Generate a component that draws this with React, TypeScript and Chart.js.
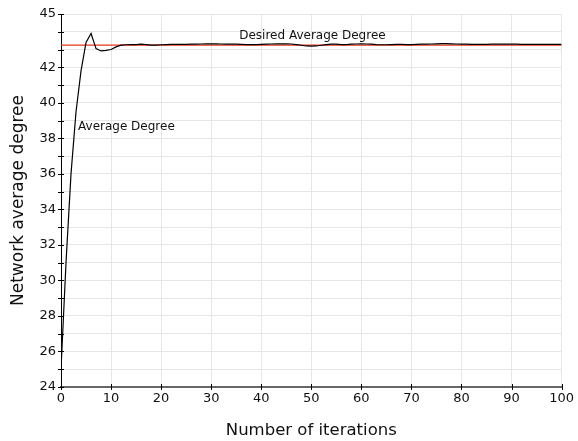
import React, { useEffect, useRef } from "react";
import { Chart, registerables } from "chart.js";

Chart.register(...registerables);

const iterations: number[] = Array.from({ length: 101 }, (_, i) => i);
const averageDegree: number[] = [
  25.0, 31.0, 36.0, 39.5, 41.8, 43.4, 43.9, 43.05, 42.92, 42.95,
  43.0, 43.15, 43.25, 43.27, 43.28, 43.28, 43.3, 43.28, 43.25, 43.25,
  43.27, 43.28, 43.29, 43.29, 43.29, 43.29, 43.3, 43.3, 43.31, 43.32,
  43.32, 43.32, 43.31, 43.3, 43.3, 43.3, 43.29, 43.28, 43.28, 43.28,
  43.29, 43.3, 43.31, 43.32, 43.32, 43.32, 43.31, 43.28, 43.24, 43.2,
  43.19, 43.2, 43.24, 43.28, 43.3, 43.3, 43.28, 43.28, 43.3, 43.31,
  43.32, 43.31, 43.3, 43.28, 43.27, 43.27, 43.28, 43.29, 43.29, 43.28,
  43.28, 43.29, 43.3, 43.3, 43.31, 43.32, 43.33, 43.33, 43.32, 43.31,
  43.3, 43.3, 43.29, 43.29, 43.29, 43.29, 43.3, 43.3, 43.3, 43.3,
  43.3, 43.3, 43.29, 43.29, 43.29, 43.29, 43.29, 43.29, 43.29, 43.29,
  43.29,
];
const desiredDegree = 43.25;
const xRange: number[] = [0, 100];
const yRange: number[] = [24, 45];
const yLabelled: number[] = [24, 26, 28, 30, 32, 34, 36, 38, 40, 42, 45];

const FONT = "'DejaVu Sans', sans-serif";

const annotations = [
  { text: "Average Degree", x: 3.4, y: 38.64 },
  { text: "Desired Average Degree", x: 35.6, y: 43.76 },
];

const extrasPlugin = {
  id: "extras",
  afterDraw(chart: any) {
    const ctx = chart.ctx;
    const xs = chart.scales.x;
    const ys = chart.scales.y;
    const area = chart.chartArea;
    ctx.save();
    ctx.strokeStyle = "#000";
    ctx.lineWidth = 1;
    ys.ticks.forEach((t: any) => {
      const py = Math.round(ys.getPixelForValue(t.value)) + 0.5;
      ctx.beginPath();
      ctx.moveTo(area.left - 3, py);
      ctx.lineTo(area.left + 3, py);
      ctx.stroke();
    });
    xs.ticks.forEach((t: any) => {
      const px = Math.round(xs.getPixelForValue(t.value)) + 0.5;
      ctx.beginPath();
      ctx.moveTo(px, area.bottom - 3);
      ctx.lineTo(px, area.bottom + 3);
      ctx.stroke();
    });
    ctx.fillStyle = "#111";
    ctx.font = "12px " + FONT;
    ctx.textBaseline = "middle";
    ctx.textAlign = "left";
    annotations.forEach((a) => {
      ctx.fillText(a.text, xs.getPixelForValue(a.x), ys.getPixelForValue(a.y));
    });
    ctx.restore();
  },
};

export default function App() {
  const ref = useRef<HTMLCanvasElement | null>(null);
  useEffect(() => {
    if (!ref.current) return;
    const chart = new Chart(ref.current, {
      type: "line",
      data: {
        datasets: [
          {
            label: "Desired Average Degree",
            data: xRange.map((x) => ({ x, y: desiredDegree })),
            borderColor: "#e8341c",
            borderWidth: 1.2,
            pointRadius: 0,
            order: 2,
          },
          {
            label: "Average Degree",
            data: iterations.map((x, i) => ({ x, y: averageDegree[i] })),
            borderColor: "#000",
            borderWidth: 1.2,
            pointRadius: 0,
            tension: 0,
            order: 1,
          },
        ],
      },
      options: {
        responsive: false,
        animation: false,
        layout: { padding: { top: 14, right: 11, left: 0, bottom: 0 } },
        plugins: { legend: { display: false }, tooltip: { enabled: false } },
        scales: {
          x: {
            type: "linear",
            min: xRange[0],
            max: xRange[1],
            afterFit: (s: any) => {
              s.height = 54;
            },
            ticks: {
              stepSize: 10,
              color: "#111",
              font: { family: FONT, size: 13 },
              padding: 4,
              maxRotation: 0,
            },
            grid: { color: "#e6e6e6", drawTicks: false },
            border: { color: "#666", width: 2 },
            title: {
              display: true,
              text: "Number of iterations",
              color: "#111",
              font: { family: FONT, size: 16.5 },
              padding: { top: 0, bottom: 0 },
            },
          },
          y: {
            type: "linear",
            min: yRange[0],
            max: yRange[1],
            afterFit: (s: any) => {
              s.width = 61;
            },
            ticks: {
              stepSize: 1,
              autoSkip: false,
              color: "#111",
              font: { family: FONT, size: 13 },
              padding: 5,
              callback: (v: any) => (yLabelled.includes(v) ? String(v) : ""),
            },
            grid: { color: "#e6e6e6", drawTicks: false },
            border: { color: "#000", width: 1 },
            title: {
              display: true,
              text: "Network average degree",
              color: "#111",
              font: { family: FONT, size: 17 },
              padding: { top: 8, bottom: 0 },
            },
          },
        },
      },
      plugins: [extrasPlugin],
    } as any);
    return () => chart.destroy();
  }, []);
  return (
    <div style={{ position: "fixed", left: 0, top: 0, width: 578, height: 441, background: "#fff" }}>
      <canvas ref={ref} width={578} height={441} style={{ display: "block" }} />
    </div>
  );
}
